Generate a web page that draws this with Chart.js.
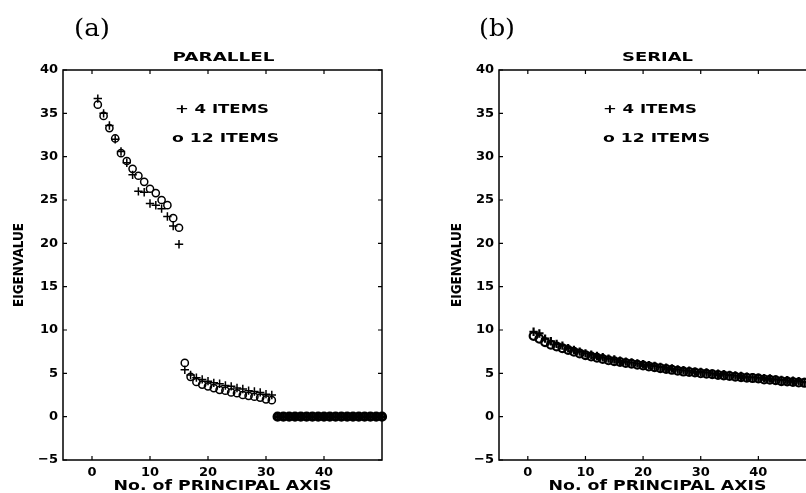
<!DOCTYPE html>
<html><head><meta charset="utf-8">
<script src="https://cdn.jsdelivr.net/npm/chart.js@4"></script>
<style>
html,body{margin:0;padding:0;background:#fff;overflow:hidden;width:806px;height:493px;position:relative;}
#wa{position:absolute;left:0;top:0;width:400px;height:493px;}
#wb{position:absolute;left:400px;top:0;width:430px;height:493px;}
canvas{display:block;}
</style></head><body>
<div id="wa"><canvas id="ca" width="400" height="493"></canvas></div>
<div id="wb"><canvas id="cb" width="430" height="493"></canvas></div>
<script>
// ---- data ----
const principalAxis = [1,2,3,4,5,6,7,8,9,10,11,12,13,14,15,16,17,18,19,20,21,22,23,24,25,26,27,28,29,30,31,32,33,34,35,36,37,38,39,40,41,42,43,44,45,46,47,48,49,50];
const parallel4 = [36.7,35.0,33.6,32.0,30.6,29.3,27.9,26.0,25.9,24.6,24.4,24.0,23.1,22.0,19.9,
  5.4,4.8,4.5,4.3,4.1,3.9,3.8,3.6,3.5,3.3,3.2,3.0,2.9,2.8,2.6,2.5,
  0,0,0,0,0,0,0,0,0,0,0,0,0,0,0,0,0,0,0];
const parallel12 = [36.0,34.7,33.3,32.1,30.4,29.5,28.6,27.8,27.1,26.3,25.8,25.0,24.4,22.9,21.8,
  6.2,4.6,4.0,3.7,3.5,3.3,3.1,3.0,2.8,2.7,2.5,2.4,2.3,2.2,2.0,1.9,
  0,0,0,0,0,0,0,0,0,0,0,0,0,0,0,0,0,0,0];
const serial4 = [9.8,9.6,9.0,8.7,8.4,8.2,7.9,7.7,7.5,7.3,7.15,7.0,6.85,6.7,6.6,6.45,6.35,6.25,6.15,6.05,5.95,5.85,5.75,5.65,5.55,5.45,5.35,5.3,5.2,5.15,5.1,5.0,4.95,4.9,4.8,4.75,4.7,4.6,4.55,4.5,4.45,4.4,4.3,4.25,4.2,4.15,4.1,4.0,3.95,3.9];
const serial12 = [9.3,9.0,8.6,8.3,8.1,7.9,7.7,7.5,7.3,7.1,6.95,6.8,6.65,6.5,6.4,6.3,6.2,6.1,6.0,5.9,5.8,5.7,5.6,5.5,5.4,5.3,5.2,5.15,5.1,5.0,4.95,4.9,4.8,4.75,4.7,4.6,4.55,4.5,4.45,4.4,4.3,4.25,4.2,4.1,4.05,4.0,3.95,3.9,3.85,3.8];
const xTicks = [0,10,20,30,40];
const yTicks = [-5,0,5,10,15,20,25,30,35,40];
const seriesLabels = ['4 ITEMS','12 ITEMS'];
const panelTitles = ['PARALLEL','SERIAL'];
const panelTags = ['(a)','(b)'];
const xTitle = 'No. of PRINCIPAL AXIS';
const yTitle = 'EIGENVALUE';

const BOLD = 'bold 13px "DejaVu Sans"';

function drawScaled(ctx, str, x, y, font, width, align, rot){
  ctx.save();
  ctx.font = font;
  const w = ctx.measureText(str).width;
  ctx.translate(x, y);
  if (rot) ctx.rotate(rot);
  ctx.scale(width / w, 1);
  ctx.textAlign = align || 'center';
  ctx.textBaseline = 'middle';
  ctx.fillStyle = '#000';
  ctx.fillText(str, 0, 0);
  ctx.restore();
}

function makeChart(id, v4, v12, idx, opt){
  const framePlugin = {
    id: 'frame',
    afterDraw(chart){
      const {ctx, chartArea: a, scales: {x, y}} = chart;
      ctx.save();
      ctx.strokeStyle = '#000';
      ctx.lineWidth = 1.5;
      ctx.strokeRect(a.left, a.top, a.right - a.left, a.bottom - a.top);
      ctx.lineWidth = 1.2;
      ctx.beginPath();
      xTicks.forEach(v => { const p = x.getPixelForValue(v);
        ctx.moveTo(p, a.bottom); ctx.lineTo(p, a.bottom - 4);
        ctx.moveTo(p, a.top); ctx.lineTo(p, a.top + 4); });
      yTicks.forEach(v => { const p = y.getPixelForValue(v);
        ctx.moveTo(a.left, p); ctx.lineTo(a.left + 4, p);
        ctx.moveTo(a.right, p); ctx.lineTo(a.right - 4, p); });
      ctx.stroke();
      ctx.restore();
      const cx = (a.left + a.right) / 2;
      drawScaled(ctx, panelTitles[idx], cx + opt.titleDx, 57.5, 'bold 12.5px "DejaVu Sans"', opt.titleW, 'center');
      drawScaled(ctx, panelTags[idx], opt.tagX, 29, '25px "DejaVu Serif"', 36, 'center');
      drawScaled(ctx, xTitle, cx, 486, 'bold 13.5px "DejaVu Sans"', 218, 'center');
      drawScaled(ctx, yTitle, opt.yTitleX, 265, 'bold 13.5px "DejaVu Sans"', 84, 'center', -Math.PI / 2);
      drawScaled(ctx, '+ ' + seriesLabels[0], opt.legX1, 110, BOLD, 94, 'left');
      drawScaled(ctx, 'o ' + seriesLabels[1], opt.legX2, 139, BOLD, 107, 'left');
    }
  };
  const bw = (base, zeroW) => c => (c.raw && c.raw.y === 0 ? zeroW : base);
  return new Chart(document.getElementById(id), {
    type: 'scatter',
    data: {
      datasets: [
        { label: seriesLabels[0], data: principalAxis.map((p, i) => ({x: p, y: v4[i]})),
          pointStyle: 'cross', pointRadius: 4.2, borderColor: '#000', borderWidth: bw(opt.bw, 2.6),
          backgroundColor: '#000', clip: false },
        { label: seriesLabels[1], data: principalAxis.map((p, i) => ({x: p, y: v12[i]})),
          pointStyle: 'circle', pointRadius: opt.r, borderColor: '#000', borderWidth: bw(opt.bw, 3),
          backgroundColor: 'rgba(0,0,0,0)', clip: false }
      ]
    },
    options: {
      responsive: false, animation: false,
      layout: { padding: { left: 0, right: opt.padR, top: 70, bottom: 0 } },
      plugins: { legend: { display: false }, tooltip: { enabled: false }, title: { display: false } },
      scales: {
        x: { type: 'linear', min: -5, max: 50,
          afterBuildTicks: s => { s.ticks = xTicks.map(v => ({value: v})); },
          afterFit: s => { s.height = 33; },
          grid: { display: false, drawTicks: false }, border: { display: false },
          ticks: { padding: 5, color: '#000', font: { family: 'DejaVu Sans', weight: 'bold', size: 13 } } },
        y: { type: 'linear', min: -5, max: 40,
          afterBuildTicks: s => { s.ticks = yTicks.map(v => ({value: v})); },
          afterFit: s => { s.width = opt.yW; },
          grid: { display: false, drawTicks: false }, border: { display: false },
          ticks: { padding: 5, color: '#000', font: { family: 'DejaVu Sans', weight: 'bold', size: 13 },
            callback: v => String(v).replace('-', '\u2212') } }
      }
    },
    plugins: [framePlugin]
  });
}

makeChart('ca', parallel4, parallel12, 0, { padR: 18, yW: 63, titleW: 102, titleDx: 1, tagX: 92, yTitleX: 19, legX1: 175, legX2: 172, bw: 1.5, r: 3.6 });
makeChart('cb', serial4, serial12, 1, { padR: 14, yW: 99, titleW: 71, titleDx: 0, tagX: 97, yTitleX: 57, legX1: 203, legX2: 203, bw: 2.2, r: 3.9 });
</script>
</body></html>
